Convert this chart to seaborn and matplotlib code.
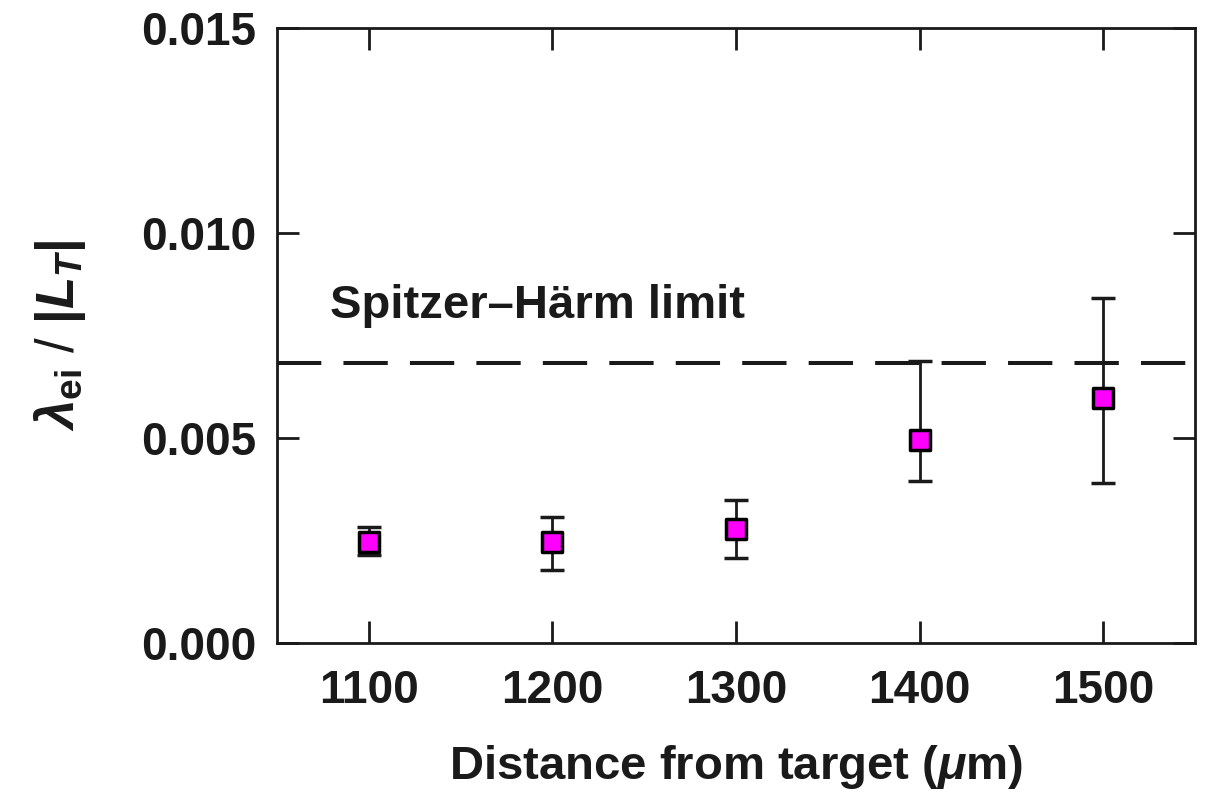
import matplotlib
matplotlib.use("Agg")
import matplotlib.pyplot as plt
import seaborn as sns
import numpy as np
import pandas as pd

distance = [1100, 1200, 1300, 1400, 1500]
ratio = [0.00246, 0.00246, 0.00278, 0.00495, 0.00598]
err_low = [0.00215, 0.00178, 0.00207, 0.00395, 0.00390]
err_high = [0.00282, 0.00307, 0.00349, 0.00688, 0.00841]
sh_limit = 0.00683
xticks = [1100, 1200, 1300, 1400, 1500]
yticks = [0.000, 0.005, 0.010, 0.015]
ytick_labels = ["0.000", "0.005", "0.010", "0.015"]

sns.set_style("ticks")
plt.rcParams['font.family'] = ['Liberation Sans', 'DejaVu Sans']
plt.rcParams['font.weight'] = 'bold'
plt.rcParams['mathtext.fontset'] = 'custom'
plt.rcParams['mathtext.rm'] = 'Liberation Sans:bold'
plt.rcParams['mathtext.bf'] = 'Liberation Sans:bold'
plt.rcParams['mathtext.it'] = 'Liberation Sans:italic:bold'

df = pd.DataFrame({"distance": distance, "ratio": ratio})

fig = plt.figure(figsize=(12.05, 7.94), dpi=100)
ax = fig.add_axes([277/1205, 1 - 643/794, (1195-277)/1205, (643-28)/794])

lo = np.array(ratio) - np.array(err_low)
hi = np.array(err_high) - np.array(ratio)
ax.errorbar(distance, ratio, yerr=[lo, hi], fmt='none', ecolor='#1a1a1a',
            elinewidth=2.0, capsize=8.5, capthick=2.5, zorder=2)
sns.scatterplot(data=df, x="distance", y="ratio", ax=ax, marker='s', s=190,
                color='#ff00ff', edgecolor='black', linewidth=2.5, zorder=3)

ax.axhline(sh_limit, color='#1a1a1a', lw=2.9, dashes=(11, 5.5), zorder=1)
ax.text(1079, 0.00793, "Spitzer\u2013Härm limit", fontsize=34, fontweight='bold',
        ha='left', va='baseline', color='#1a1a1a')

ax.set_xlim(1050, 1550)
ax.set_ylim(0, 0.015)
ax.set_xticks(xticks)
ax.set_xticklabels([str(x) for x in xticks])
ax.set_yticks(yticks)
ax.set_yticklabels(ytick_labels)

for side in ['top', 'bottom', 'left', 'right']:
    ax.spines[side].set_visible(True)
    ax.spines[side].set_linewidth(2)
    ax.spines[side].set_color('#1a1a1a')
ax.tick_params(direction='in', length=16, width=2, top=True, right=True,
               labelsize=33, color='#1a1a1a', labelcolor='#1a1a1a')
ax.tick_params(axis='x', pad=19)
ax.tick_params(axis='y', pad=15)
for lab in ax.get_xticklabels() + ax.get_yticklabels():
    lab.set_fontweight('bold')

ax.set_xlabel(r"Distance from target ($\mu$m)", fontsize=34, fontweight='bold',
              labelpad=21, color='#1a1a1a')
ax.set_ylabel(r"$\lambda_{\rm ei}$ / $|L_T|$", fontsize=38, labelpad=38, color='#1a1a1a')
ax.grid(False)

fig.savefig("out.png", dpi=100)
